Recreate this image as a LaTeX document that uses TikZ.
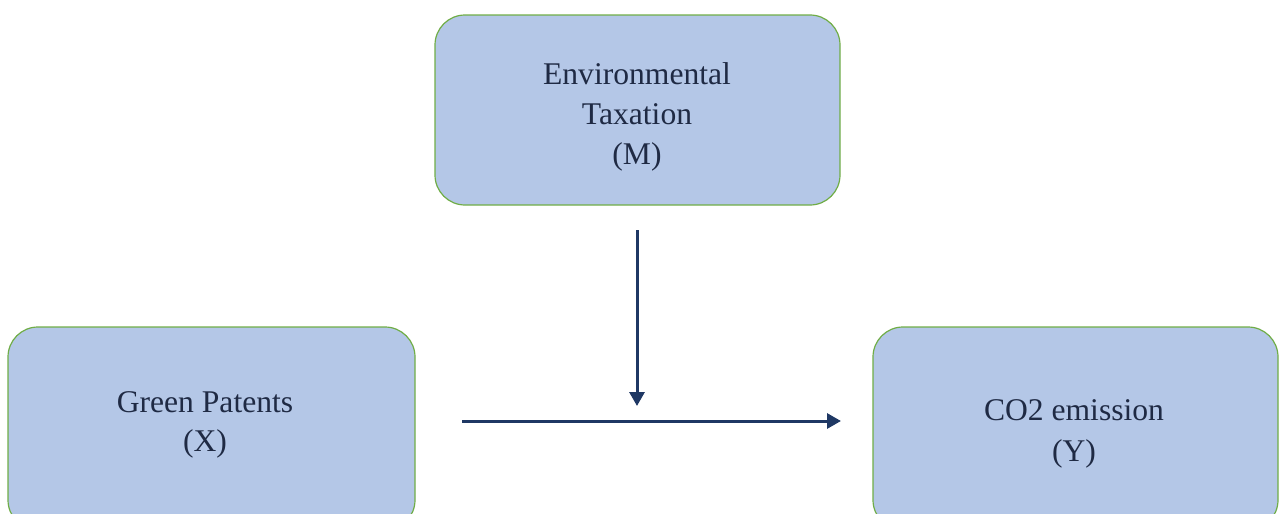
\documentclass[tikz,border=0pt]{standalone}
\usepackage{fontspec}
\setmainfont{Liberation Serif}
\usetikzlibrary{arrows.meta}
\definecolor{boxfill}{HTML}{B4C7E7}
\definecolor{boxline}{HTML}{70AD47}
\definecolor{navy}{HTML}{1F3864}
\definecolor{txt}{HTML}{1F2A44}
\tikzset{
  varbox/.style={draw=boxline, line width=0.6pt, fill=boxfill, rounded corners=15pt},
  lbl/.style={text=txt, font=\fontsize{15.8pt}{20pt}\selectfont, align=center, inner sep=0pt, anchor=base},
  conn/.style={draw=navy, line width=1.5pt, -{Triangle[length=7pt,width=7.5pt]}}
}
\begin{document}
\begin{tikzpicture}[x=0.5pt,y=-0.5pt]
\useasboundingbox (0,0) rectangle (1280,514);
\begin{scope}
\clip (0,0) rectangle (1280,514);
\draw[varbox] (435,15) rectangle (840,205) coordinate (mbr);
\draw[varbox] (8,327) rectangle (415,530);
\draw[varbox] (873,327) rectangle (1278,530);
\end{scope}
\node[lbl] (mt) at (637,84) {Environmental};
\node[lbl] (mt2) at (637,124) {Taxation};
\node[lbl] (mt3) at (637,164) {(M)};
\node[lbl] (xt) at (205,412) {Green Patents};
\node[lbl] (xt2) at (205,451) {(X)};
\node[lbl] (yt) at (1074,420) {CO2 emission};
\node[lbl] (yt2) at (1074,461) {(Y)};
\coordinate (vs) at (637,230);
\coordinate (ve) at (637,406);
\coordinate (hs) at (462,421);
\coordinate (he) at (841,421);
\draw[conn] (vs) -- (ve);
\draw[conn] (hs) -- (he);
\end{tikzpicture}
\end{document}
